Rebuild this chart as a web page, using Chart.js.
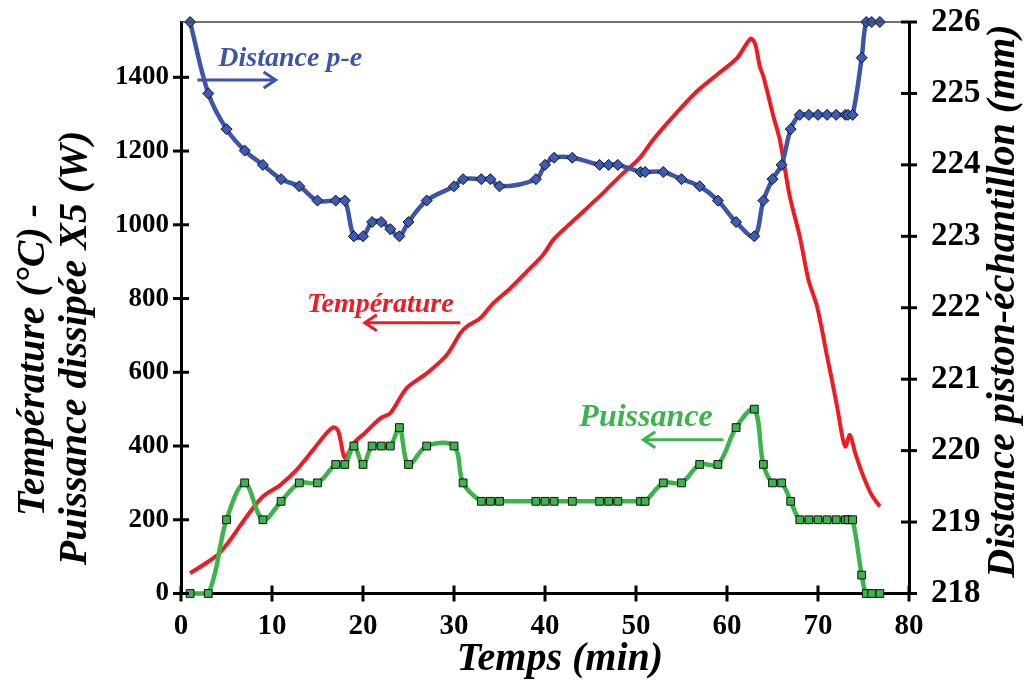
<!DOCTYPE html>
<html>
<head>
<meta charset="utf-8">
<script src="https://cdn.jsdelivr.net/npm/chart.js@4.4.0/dist/chart.umd.min.js"></script>
<style>
  html, body { margin: 0; padding: 0; background: #fff; }
  #wrap { width: 1027px; height: 682px; position: relative; }
</style>
</head>
<body>
<div id="wrap"><canvas id="chart"></canvas></div>
<script>
// Time stamps shared by the distance and power readings (min)
const temps = [1, 3, 5, 7, 9, 11, 13, 15, 17, 18,
  19, 20, 21, 22, 23, 24, 25, 27, 30, 31,
  33, 34, 35, 39, 40, 41, 43, 46, 47, 48,
  50.5, 51, 53, 55, 57, 59, 61, 63, 64, 65,
  66, 67, 68, 69, 70, 71, 72, 73, 73.3, 73.8,
  74.8, 75.3, 75.9, 76.8];

// Piston-sample distance (mm), right axis
const distance = [226, 225.0, 224.5, 224.2, 224.0, 223.8, 223.7, 223.5, 223.5, 223.5,
  223.0, 223.0, 223.2, 223.2, 223.1, 223.0, 223.2, 223.5, 223.7, 223.8,
  223.8, 223.8, 223.7, 223.8, 224.0, 224.1, 224.1, 224.0, 224.0, 224.0,
  223.9, 223.9, 223.9, 223.8, 223.7, 223.5, 223.2, 223.0, 223.5, 223.8,
  224.0, 224.5, 224.7, 224.7, 224.7, 224.7, 224.7, 224.7, 224.7, 224.7,
  225.5, 226, 226, 226];

// Dissipated power x5 (W), left axis
const puissance = [0, 0, 200, 300, 200, 250, 300, 300, 350, 350,
  400, 350, 400, 400, 400, 450, 350, 400, 400, 300,
  250, 250, 250, 250, 250, 250, 250, 250, 250, 250,
  250, 250, 300, 300, 350, 350, 450, 500, 350, 300,
  300, 250, 200, 200, 200, 200, 200, 200, 200, 200,
  50, 0, 0, 0];

// Temperature trace (min, degC), left axis
const tempsT = [1, 4, 5.4, 7.2, 9, 10.9, 12.7, 14.5, 16, 16.8,
  17.3, 17.85, 18.1, 19, 20.2, 21.9, 23, 24.8, 27, 29.2,
  30.7, 31.4, 32.9, 34.3, 36.2, 38, 39.8, 40.9, 42.4, 46,
  47.1, 48.6, 50.4, 51.9, 54.1, 56.7, 58.9, 61.1, 62.6, 63.1,
  63.6, 64, 65.1, 65.8, 66.9, 68, 68.95, 69.9, 71, 72.1,
  72.6, 73, 73.5, 74.1, 75, 75.9, 76.8];
const temperature = [55, 104, 145, 208, 263, 294, 335, 389, 435, 451,
  439, 376, 367, 408, 435, 475, 489, 557, 597, 647,
  706, 724, 747, 787, 828, 873, 919, 959, 995, 1077,
  1104, 1140, 1181, 1231, 1294, 1362, 1407, 1452, 1505, 1490,
  1430, 1402, 1294, 1231, 1077, 968, 851, 778, 643, 507,
  435, 398, 430, 380, 317, 267, 236];

const SERIF = "'Liberation Serif', 'Times New Roman', serif";
const BLUE = '#3d55a8';
const GREEN = '#3cb44b';
const RED = '#ed1c24';

// in-plot labels with arrows, placed in data units (x: min, y: left axis)
const notes = [
  { text: 'Distance p-e', color: BLUE, size: 28, x: 4.1, y: 1450, align: 'left', from: 1.8, to: 10.4, ay: 1393 },
  { text: 'Température', color: RED, size: 28, x: 21.9, y: 783, align: 'center', from: 30.7, to: 20.2, ay: 734 },
  { text: 'Puissance', color: GREEN, size: 32, x: 51.1, y: 476, align: 'center', from: 59.6, to: 50.8, ay: 417 }
];

const pts = (xs, ys) => xs.map((x, i) => ({ x: x, y: ys[i] }));

function seg(ctx, x1, y1, x2, y2) {
  ctx.beginPath();
  ctx.moveTo(x1, y1);
  ctx.lineTo(x2, y2);
  ctx.stroke();
}

function rotText(ctx, text, x, y, font) {
  ctx.save();
  ctx.translate(x, y);
  ctx.rotate(-Math.PI / 2);
  ctx.font = font;
  ctx.fillStyle = '#000';
  ctx.textAlign = 'center';
  ctx.textBaseline = 'middle';
  ctx.fillText(text, 0, 0);
  ctx.restore();
}

const decorations = {
  id: 'decorations',
  afterDraw(chart) {
    const { ctx, chartArea: a, scales } = chart;
    ctx.save();

    // thin frame line on top
    ctx.strokeStyle = '#444';
    ctx.lineWidth = 1.5;
    seg(ctx, a.left, a.top, a.right, a.top);

    // tick marks crossing the axes
    ctx.strokeStyle = '#000';
    ctx.lineWidth = 3;
    scales.x.ticks.forEach(t => {
      const px = scales.x.getPixelForValue(t.value);
      seg(ctx, px, a.bottom - 8, px, a.bottom + 8);
    });
    scales.y.ticks.forEach(t => {
      const py = scales.y.getPixelForValue(t.value);
      seg(ctx, a.left - 8, py, a.left + 8, py);
    });
    scales.y1.ticks.forEach(t => {
      const py = scales.y1.getPixelForValue(t.value);
      seg(ctx, a.right - 8, py, a.right + 8, py);
    });

    // labels + arrows
    notes.forEach(n => {
      ctx.font = 'italic bold ' + n.size + 'px ' + SERIF;
      ctx.fillStyle = n.color;
      ctx.textAlign = n.align;
      ctx.textBaseline = 'middle';
      ctx.fillText(n.text, scales.x.getPixelForValue(n.x), scales.y.getPixelForValue(n.y));

      const x1 = scales.x.getPixelForValue(n.from);
      const x2 = scales.x.getPixelForValue(n.to);
      const ay = scales.y.getPixelForValue(n.ay);
      const dir = x2 > x1 ? 1 : -1;
      ctx.strokeStyle = n.color;
      ctx.lineWidth = 3;
      seg(ctx, x1, ay, x2, ay);
      ctx.beginPath();
      ctx.moveTo(x2 - dir * 12, ay - 8);
      ctx.lineTo(x2, ay);
      ctx.lineTo(x2 - dir * 12, ay + 8);
      ctx.stroke();
    });

    // axis titles
    const tf = 'italic bold 40px ' + SERIF;
    rotText(ctx, 'Température (°C) -', 34, 360, tf);
    rotText(ctx, 'Puissance dissipée X5 (W)', 76, 348, tf);
    rotText(ctx, 'Distance piston-échantillon (mm)', 1004, 301, tf);
    ctx.font = tf;
    ctx.fillStyle = '#000';
    ctx.textAlign = 'center';
    ctx.textBaseline = 'middle';
    ctx.fillText('Temps (min)', 560, 660);

    ctx.restore();
  }
};

const plain = v => String(v);
const boldSerif = size => ({ family: SERIF, size: size, weight: 'bold' });

// fixed axis boxes so the plot area matches the original frame
const fixBox = w => s => {
  s.width = w;
  s.paddingTop = 0;
  s.paddingBottom = 0;
};

new Chart(document.getElementById('chart'), {
  type: 'line',
  data: {
    datasets: [
      {
        label: 'Distance p-e',
        data: pts(temps, distance),
        yAxisID: 'y1',
        borderColor: BLUE,
        borderWidth: 4.5,
        tension: 0.35,
        pointStyle: 'rectRot',
        pointRadius: 5.5,
        pointBackgroundColor: '#3c5bb8',
        pointBorderColor: '#111',
        pointBorderWidth: 1,
        clip: false
      },
      {
        label: 'Puissance',
        data: pts(temps, puissance),
        yAxisID: 'y',
        borderColor: GREEN,
        borderWidth: 4.5,
        tension: 0.35,
        pointStyle: 'rect',
        pointRadius: 5.5,
        pointBackgroundColor: '#3db34a',
        pointBorderColor: '#111',
        pointBorderWidth: 1,
        clip: false
      },
      {
        label: 'Température',
        data: pts(tempsT, temperature),
        yAxisID: 'y',
        borderColor: RED,
        borderWidth: 4,
        tension: 0.3,
        pointRadius: 0,
        clip: false
      }
    ]
  },
  options: {
    responsive: true,
    maintainAspectRatio: false,
    animation: false,
    layout: { padding: { top: 22, left: 0, right: 0, bottom: 0 } },
    plugins: {
      legend: { display: false },
      tooltip: { enabled: false }
    },
    scales: {
      x: {
        type: 'linear',
        min: 0,
        max: 80,
        ticks: { stepSize: 10, color: '#000', font: boldSerif(29), padding: 16, callback: plain },
        grid: { display: false, drawTicks: false },
        border: { display: true, color: '#000', width: 3 },
        afterFit: s => { s.height = 88.5; s.paddingLeft = 0; s.paddingRight = 0; }
      },
      y: {
        position: 'left',
        min: 0,
        max: 1550,
        ticks: { stepSize: 200, includeBounds: false, color: '#000', font: boldSerif(27), padding: 12, callback: plain },
        grid: { display: false, drawTicks: false },
        border: { display: true, color: '#000', width: 3 },
        afterFit: fixBox(181)
      },
      y1: {
        position: 'right',
        min: 218,
        max: 226,
        ticks: { stepSize: 1, color: '#000', font: boldSerif(33), padding: 22, callback: plain },
        grid: { display: false, drawTicks: false },
        border: { display: true, color: '#000', width: 3 },
        afterFit: fixBox(118)
      }
    }
  },
  plugins: [decorations]
});
</script>
</body>
</html>
